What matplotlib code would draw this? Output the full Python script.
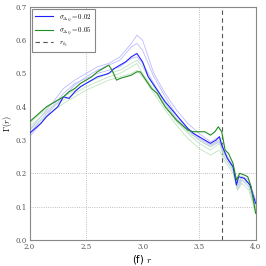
import matplotlib
matplotlib.use('Agg')
import matplotlib.pyplot as plt

plt.rcParams['mathtext.fontset'] = 'cm'

# main curves
r_blue = [2.00, 2.05, 2.10, 2.15, 2.20, 2.25, 2.30, 2.35, 2.40, 2.45,
          2.50, 2.55, 2.60, 2.65, 2.70, 2.75, 2.80, 2.85, 2.90, 2.95,
          3.00, 3.05, 3.10, 3.15, 3.20, 3.25, 3.30, 3.35, 3.40, 3.45,
          3.50, 3.55, 3.60, 3.65, 3.68, 3.70, 3.75, 3.80, 3.83, 3.85,
          3.90, 3.95, 4.00]
g_blue = [0.32, 0.335, 0.35, 0.37, 0.385, 0.40, 0.43, 0.425, 0.445, 0.46,
          0.47, 0.48, 0.49, 0.495, 0.50, 0.515, 0.525, 0.535, 0.55, 0.56,
          0.535, 0.49, 0.465, 0.44, 0.415, 0.395, 0.375, 0.355, 0.335, 0.32,
          0.31, 0.30, 0.29, 0.30, 0.31, 0.285, 0.245, 0.22, 0.165, 0.19,
          0.185, 0.165, 0.11]

r_green = [2.00, 2.05, 2.10, 2.15, 2.20, 2.25, 2.30, 2.35, 2.40, 2.45,
           2.50, 2.55, 2.60, 2.65, 2.70, 2.73, 2.77, 2.80, 2.85, 2.90,
           2.95, 2.98, 3.03, 3.08, 3.13, 3.20, 3.25, 3.30, 3.35, 3.40,
           3.45, 3.50, 3.55, 3.60, 3.64, 3.67, 3.70, 3.73, 3.76, 3.80,
           3.83, 3.86, 3.90, 3.93, 3.96, 4.00]
g_green = [0.355, 0.37, 0.385, 0.40, 0.41, 0.42, 0.43, 0.445, 0.455, 0.47,
           0.48, 0.49, 0.505, 0.515, 0.525, 0.51, 0.48, 0.485, 0.49, 0.495,
           0.505, 0.505, 0.48, 0.455, 0.44, 0.40, 0.38, 0.36, 0.345, 0.33,
           0.325, 0.325, 0.325, 0.315, 0.325, 0.34, 0.325, 0.27, 0.26, 0.23,
           0.18, 0.20, 0.195, 0.19, 0.16, 0.08]

# faint individual runs
r_faint = [2.00, 2.10, 2.20, 2.30, 2.40, 2.50, 2.60, 2.70, 2.80, 2.90,
           2.95, 3.00, 3.10, 3.20, 3.30, 3.40, 3.50, 3.60, 3.68, 3.72,
           3.80, 3.84, 3.88, 3.94, 4.00]
faint_blue = [
    [0.33, 0.37, 0.41, 0.455, 0.48, 0.50, 0.52, 0.53, 0.55, 0.59,
     0.615, 0.60, 0.50, 0.44, 0.39, 0.35, 0.32, 0.295, 0.31, 0.27,
     0.22, 0.17, 0.19, 0.18, 0.12],
    [0.31, 0.35, 0.395, 0.43, 0.465, 0.49, 0.51, 0.525, 0.54, 0.58,
     0.59, 0.57, 0.49, 0.43, 0.375, 0.335, 0.305, 0.285, 0.30, 0.26,
     0.215, 0.16, 0.19, 0.17, 0.10],
    [0.32, 0.36, 0.40, 0.44, 0.47, 0.485, 0.50, 0.51, 0.52, 0.545,
     0.55, 0.53, 0.47, 0.41, 0.365, 0.33, 0.30, 0.28, 0.295, 0.25,
     0.21, 0.15, 0.18, 0.16, 0.09],
]
faint_green = [
    [0.34, 0.37, 0.40, 0.42, 0.44, 0.46, 0.475, 0.49, 0.50, 0.52,
     0.53, 0.50, 0.45, 0.40, 0.355, 0.32, 0.29, 0.27, 0.29, 0.25,
     0.21, 0.16, 0.18, 0.17, 0.09],
    [0.33, 0.36, 0.385, 0.41, 0.43, 0.45, 0.465, 0.48, 0.49, 0.50,
     0.51, 0.49, 0.44, 0.39, 0.345, 0.305, 0.275, 0.255, 0.27, 0.24,
     0.20, 0.15, 0.17, 0.15, 0.08],
    [0.35, 0.38, 0.41, 0.43, 0.45, 0.47, 0.485, 0.50, 0.51, 0.53,
     0.54, 0.52, 0.46, 0.41, 0.36, 0.325, 0.30, 0.28, 0.30, 0.26,
     0.22, 0.17, 0.19, 0.17, 0.10],
]

r_hc = 3.7
# reference lines drawn in the figure
vlines = [2.5, 3.5]
hlines = [0.1, 0.2]

labels = [r'$\sigma_{\Delta\eta}=0.02$', r'$\sigma_{\Delta\eta}=0.05$', r'$r_{h_c}$']
xticks = [2.0, 2.5, 3.0, 3.5, 4.0]
yticks = [0.0, 0.1, 0.2, 0.3, 0.4, 0.5, 0.6, 0.7]


def main():
    fig = plt.figure(figsize=(2.66, 2.66), dpi=100)
    ax = fig.add_axes([0.111, 0.098, 0.85, 0.876])

    for v in vlines:
        ax.axvline(v, ls=':', color='#aaaaaa', lw=0.6, zorder=0)
    for h in hlines:
        ax.axhline(h, ls=':', color='#aaaaaa', lw=0.6, zorder=0)

    for g in faint_blue:
        ax.plot(r_faint, g, color='#bcbcff', lw=0.6, zorder=2)
    for g in faint_green:
        ax.plot(r_faint, g, color='#bfe3bf', lw=0.6, zorder=2)

    ax.plot(r_blue, g_blue, color='#2020ff', lw=0.8, label=labels[0], zorder=3)
    ax.plot(r_green, g_green, color='#228B22', lw=0.8, label=labels[1], zorder=3)
    ax.axvline(r_hc, color='#555555', ls=(0, (4, 3)), lw=0.8, label=labels[2], zorder=1)

    ax.set_xlim(2.0, 4.0)
    ax.set_ylim(0.0, 0.7)
    ax.set_xticks(xticks)
    ax.set_yticks(yticks)
    ax.set_xticklabels(['{0:.1f}'.format(v) for v in xticks])
    ax.set_yticklabels(['{0:.1f}'.format(v) for v in yticks])
    ax.tick_params(labelsize=5, length=0, pad=2, colors='#555555')
    for lab in ax.get_xticklabels() + ax.get_yticklabels():
        lab.set_family('DejaVu Serif')

    for sp in ax.spines.values():
        sp.set_color('#888888')
        sp.set_linewidth(0.8)

    ax.set_xlabel('(f) $r$', fontsize=7, labelpad=2)
    ax.set_ylabel(r'$\Gamma(r)$', fontsize=6, labelpad=1)

    leg = ax.legend(loc='upper left', fontsize=5, handlelength=2.6,
                    fancybox=False, framealpha=1, borderpad=0.5,
                    labelspacing=0.35, borderaxespad=0.3, handletextpad=0.8)
    leg.get_frame().set_edgecolor('#888888')
    leg.get_frame().set_linewidth(0.8)

    fig.savefig('out.png', dpi=100)
    plt.close(fig)


if __name__ == '__main__':
    main()
